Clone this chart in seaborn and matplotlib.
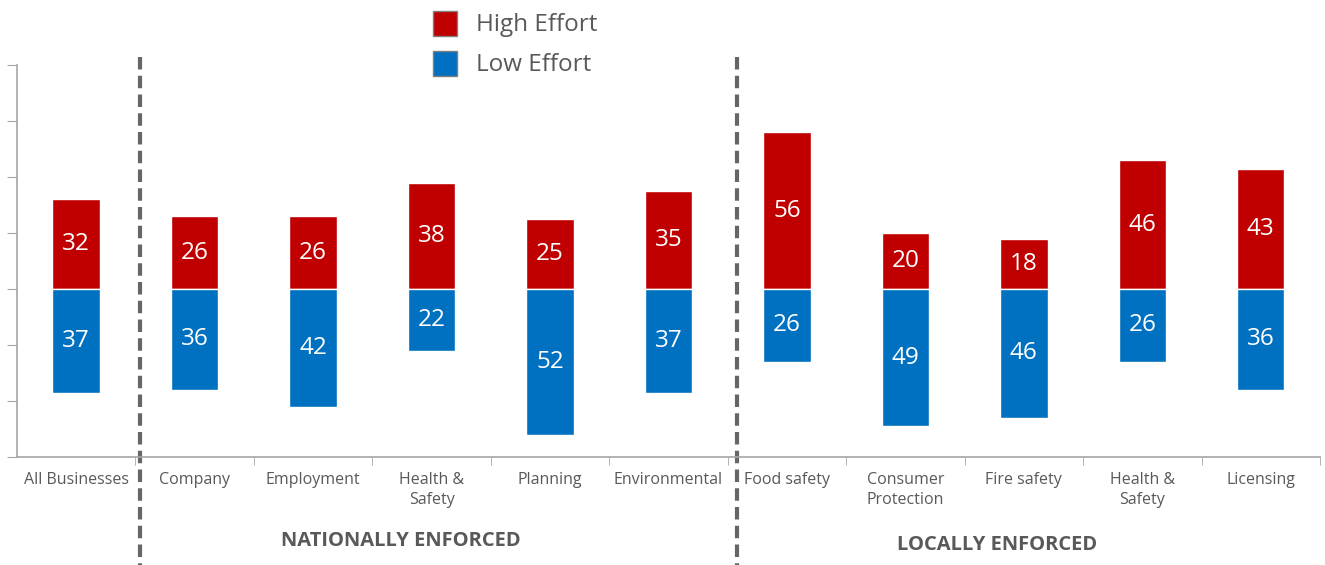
import pandas as pd
import matplotlib
matplotlib.use("Agg")
import matplotlib.pyplot as plt
from matplotlib.patches import Patch
from matplotlib.ticker import MultipleLocator
import seaborn as sns

# ── Data ────────────────────────────────────────────────────────────────────
categories = ["All Businesses", "Company", "Employment", "Health &\nSafety",
              "Planning", "Environmental", "Food safety", "Consumer\nProtection",
              "Fire safety", "Health &\nSafety", "Licensing"]
high_effort = [32, 26, 26, 38, 25, 35, 56, 20, 18, 46, 43]
low_effort = [37, 36, 42, 22, 52, 37, 26, 49, 46, 26, 36]
groups = ["NATIONALLY ENFORCED", "LOCALLY ENFORCED"]

RED = "#C00000"
BLUE = "#0070C0"
GREY = "#595959"
AXIS = "#A6A6A6"

sns.set_style("white")
plt.rcParams["font.family"] = ["Open Sans", "DejaVu Sans"]

df = pd.DataFrame({
    "key": [str(i) for i in range(len(categories))],
    "high": high_effort,
    "low": [-v for v in low_effort],
})

fig = plt.figure(figsize=(13.25, 5.65), dpi=100)
ax = fig.add_axes([0.0128, 0.1912, 0.9834, 0.6938])

sns.barplot(data=df, x="key", y="high", color=RED, width=0.4,
            saturation=1, ax=ax)
sns.barplot(data=df, x="key", y="low", color=BLUE, width=0.4,
            saturation=1, ax=ax)

for cont, vals in zip(ax.containers, [high_effort, low_effort]):
    ax.bar_label(cont, labels=[str(v) for v in vals], label_type="center",
                 color="white", fontsize=17.5)

ax.set_ylim(-60, 80)
ax.set_xlim(-0.5, len(categories) - 0.5)
ax.yaxis.set_major_locator(MultipleLocator(20))
ax.set_yticklabels([])
ax.tick_params(axis="y", length=7, color=AXIS, left=True)
ax.set_xticks(range(len(categories)))
ax.set_xticklabels(categories, fontsize=11.5, color=GREY, linespacing=1.35)
ax.tick_params(axis="x", length=0, pad=11)
ax.set_xticks([i + 0.5 for i in range(len(categories))], minor=True)
ax.tick_params(axis="x", which="minor", length=6, color=AXIS, bottom=True)
ax.set_xlabel("")
ax.set_ylabel("")

for side in ["top", "right"]:
    ax.spines[side].set_visible(False)
for side in ["left", "bottom"]:
    ax.spines[side].set_color(AXIS)
    ax.spines[side].set_linewidth(1.2)

# group separators (dashed, running down past the axis)
for xpos in [0.538, 5.576]:
    ax.plot([xpos, xpos], [83, -99], ls=(0, (3, 1.5)), lw=3, color="#666666",
            clip_on=False)

fig.text(401 / 1325, 1 - 541 / 565, groups[0], ha="center", va="center",
         fontsize=14.5, fontweight="bold", color=GREY)
fig.text(997 / 1325, 1 - 545 / 565, groups[1], ha="center", va="center",
         fontsize=14.5, fontweight="bold", color=GREY)

handles = [Patch(facecolor=RED, edgecolor="#7F7F7F", label="High Effort"),
           Patch(facecolor=BLUE, edgecolor="#7F7F7F", label="Low Effort")]
leg = fig.legend(handles=handles, loc="upper left",
                 bbox_to_anchor=(416 / 1325, 1.011), frameon=False,
                 fontsize=17.5, handlelength=1.0, handleheight=1.2,
                 handletextpad=0.75, labelspacing=0.55, borderpad=0.2,
                 labelcolor=GREY)

fig.savefig("out.png", dpi=100)
